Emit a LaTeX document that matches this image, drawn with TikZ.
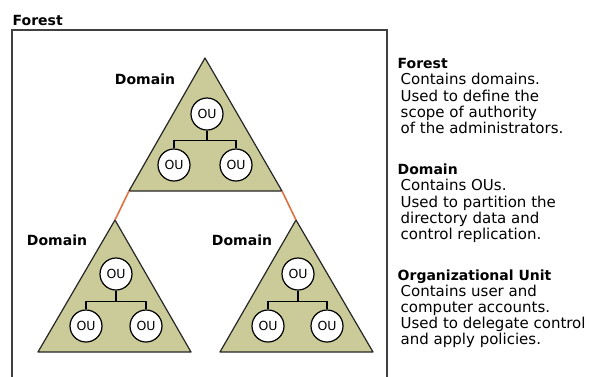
\documentclass[tikz,border=0pt]{standalone}
\usepackage{fontspec}
\setmainfont{DejaVu Sans}
\definecolor{domfill}{RGB}{203,203,154}
\definecolor{linkorange}{RGB}{224,112,64}
\definecolor{framegray}{RGB}{64,64,64}
\begin{document}
\begin{tikzpicture}[x=1pt,y=-1pt,
  ou/.style={circle,draw,fill=white,line width=1.2pt,minimum size=32pt,inner sep=0pt,font=\fontsize{12.5}{12.5}\selectfont},
  domtri/.style={draw=black!85,fill=domfill,line width=1.2pt,line join=round},
  tree/.style={line width=1.2pt},
  link/.style={linkorange,line width=1.6pt},
  lbl/.style={font=\fontsize{14}{16}\selectfont\bfseries,inner sep=0pt},
  legend/.style={font=\fontsize{15}{16}\selectfont,align=left,inner sep=0pt,anchor=north west}]
\useasboundingbox (0,0) rectangle (589,376);
% forest frame
\draw[framegray,line width=1.3pt] (12,385) -- (12,30) -- (387,30) -- (387,385);
\node[lbl,anchor=base west] (forest) at (12.5,25.5) {Forest};
% domains
\draw[domtri] (205,58) -- (282,191) -- (129,191) -- cycle;
\draw[domtri] (115,220) -- (191,352) -- (38,352) -- cycle;
\draw[domtri] (296,220) -- (373,352) -- (220,352) -- cycle;
\coordinate (topl) at (129,191);
\coordinate (topr) at (282,191);
\coordinate (leftapex) at (115,220);
\coordinate (rightapex) at (296,220);
\draw[link] (topl) -- (leftapex);
\draw[link] (topr) -- (rightapex);
\node[lbl] (domtop) at (145,79) {Domain};
\node[lbl] (domleft) at (57,240) {Domain};
\node[lbl] (domright) at (242,240) {Domain};
% OUs
\node[ou] (ta) at (207,114) {OU};
\node[ou] (tb) at (174,165) {OU};
\node[ou] (tc) at (236,165) {OU};
\node[ou] (la) at (116,274) {OU};
\node[ou] (lb) at (86,326) {OU};
\node[ou] (lc) at (146,326) {OU};
\node[ou] (ra) at (298,274) {OU};
\node[ou] (rb) at (268,326) {OU};
\node[ou] (rc) at (327,326) {OU};
\draw[tree] (ta.south) -- ++(0,10) -| (tb.north);
\draw[tree] (ta.south) -- ++(0,10) -| (tc.north);
\draw[tree] (la.south) -- ++(0,11) -| (lb.north);
\draw[tree] (la.south) -- ++(0,11) -| (lc.north);
\draw[tree] (ra.south) -- ++(0,11) -| (rb.north);
\draw[tree] (ra.south) -- ++(0,11) -| (rc.north);
% legend
\node[lbl,anchor=base west] (kforest) at (397.5,68) {Forest};
\node[legend] (tforest) at (400.5,72.8) {\strut Contains domains.\\Used to define the\\scope of authority\\of the administrators.};
\node[lbl,anchor=base west] (kdomain) at (397.5,174) {Domain};
\node[legend] (tdomain) at (400.5,178.8) {\strut Contains OUs.\\Used to partition the\\directory data and\\control replication.};
\node[lbl,anchor=base west] (kou) at (397.5,280) {Organizational Unit};
\node[legend] (tou) at (400.5,284.8) {\strut Contains user and\\computer accounts.\\Used to delegate control\\and apply policies.};
\end{tikzpicture}
\end{document}
